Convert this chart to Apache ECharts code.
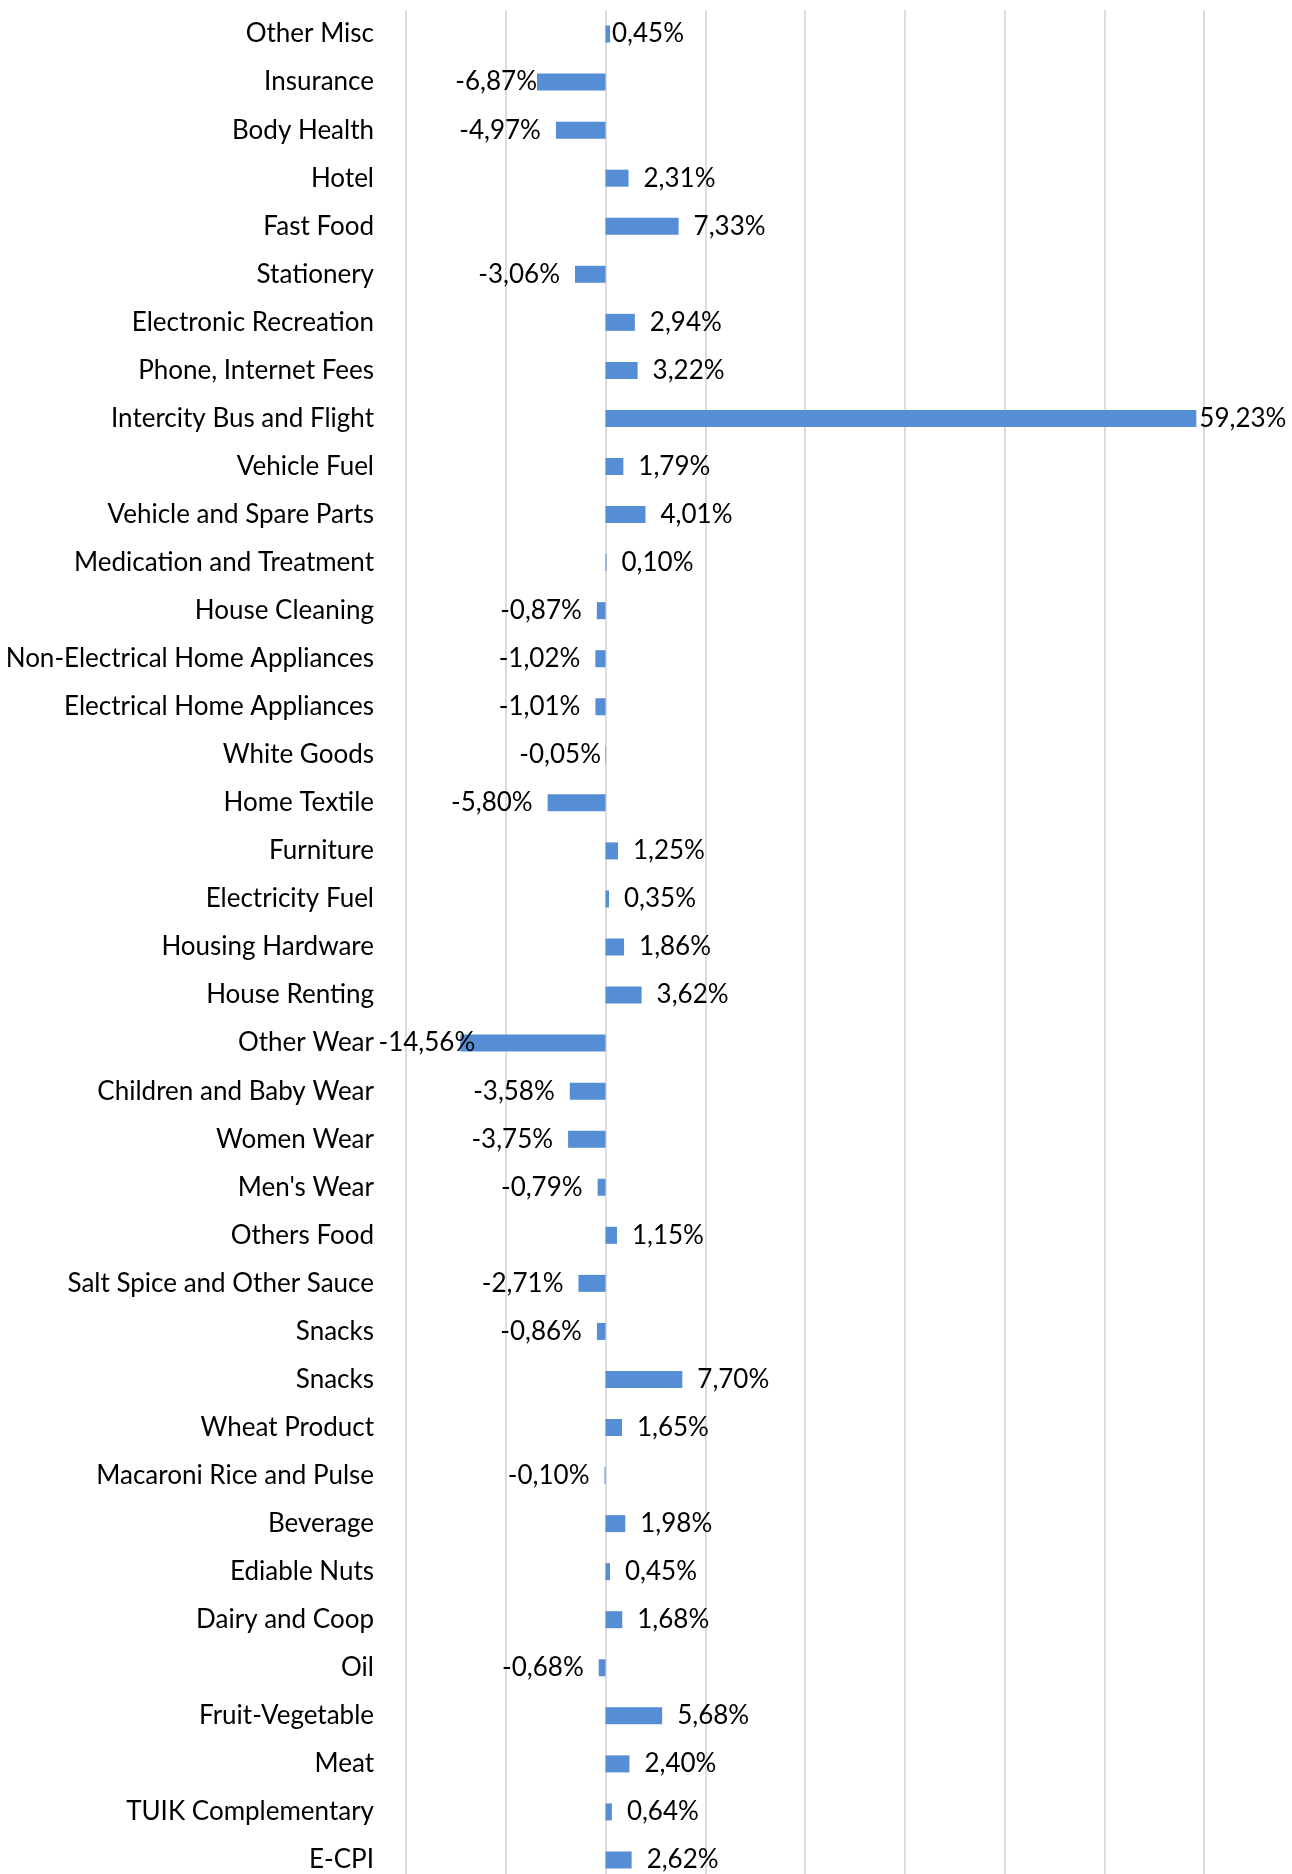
<!DOCTYPE html>
<html>
<head>
<meta charset="utf-8">
<title>E-CPI categories</title>
<script src="https://cdn.jsdelivr.net/npm/echarts@6/dist/echarts.min.js"></script>
<style>
    html, body { margin: 0; padding: 0; background: #fff; }
    #chart { width: 1292px; height: 1874px; }
</style>
</head>
<body>
<div id="chart"></div>
<script>
// categories, top to bottom
var categories = [
    'Other Misc', 'Insurance', 'Body Health', 'Hotel', 'Fast Food', 'Stationery',
    'Electronic Recreation', 'Phone, Internet Fees', 'Intercity Bus and Flight',
    'Vehicle Fuel', 'Vehicle and Spare Parts', 'Medication and Treatment',
    'House Cleaning', 'Non-Electrical Home Appliances', 'Electrical Home Appliances',
    'White Goods', 'Home Textile', 'Furniture', 'Electricity Fuel', 'Housing Hardware',
    'House Renting', 'Other Wear', 'Children and Baby Wear', 'Women Wear', "Men's Wear",
    'Others Food', 'Salt Spice and Other Sauce', 'Snacks', 'Snacks', 'Wheat Product',
    'Macaroni Rice and Pulse', 'Beverage', 'Ediable Nuts', 'Dairy and Coop', 'Oil',
    'Fruit-Vegetable', 'Meat', 'TUIK Complementary', 'E-CPI'
];

// change in %
var changes = [
    0.45, -6.87, -4.97, 2.31, 7.33, -3.06,
    2.94, 3.22, 59.23,
    1.79, 4.01, 0.10,
    -0.87, -1.02, -1.01,
    -0.05, -5.80, 1.25, 0.35, 1.86,
    3.62, -14.56, -3.58, -3.75, -0.79,
    1.15, -2.71, -0.86, 7.70, 1.65,
    -0.10, 1.98, 0.45, 1.68, -0.68,
    5.68, 2.40, 0.64, 2.62
];

// labels that were moved by hand in the original (index -> distance)
var labelGap = { 0: 2, 1: 0, 8: 3, 15: 4, 21: -15 };

var FONT = 'Lato';

var seriesData = changes.map(function (v, i) {
    return {
        value: v,
        label: {
            position: v < 0 ? 'left' : 'right',
            distance: labelGap[i] !== undefined ? labelGap[i] : 15
        }
    };
});

var myChart = echarts.init(document.getElementById('chart'));

myChart.setOption({
    animation: false,
    grid: {
        left: 406,
        right: 88,
        top: 10,
        bottom: -10,
        containLabel: false,
        outerBoundsMode: 'none'
    },
    xAxis: {
        type: 'value',
        min: -20,
        max: 60,
        interval: 10,
        axisLabel: { show: false },
        axisLine: { show: false },
        axisTick: { show: false },
        splitLine: {
            show: true,
            lineStyle: { color: '#dcdcdc', width: 2 }
        }
    },
    yAxis: {
        type: 'category',
        inverse: true,
        data: categories,
        axisLine: { show: false },
        axisTick: { show: false },
        axisLabel: {
            margin: 32,
            fontFamily: FONT,
            fontSize: 26,
            color: '#000',
            padding: [5, 0, 0, 0],
            interval: 0
        }
    },
    series: [
        {
            type: 'bar',
            data: seriesData,
            barWidth: 17,
            itemStyle: { color: '#558ed5' },
            label: {
                show: true,
                fontFamily: FONT,
                fontSize: 26,
                color: '#000',
                padding: [5, 0, 0, 0],
                formatter: function (p) {
                    return p.value.toFixed(2).replace('.', ',') + '%';
                }
            }
        }
    ]
});
</script>
</body>
</html>
